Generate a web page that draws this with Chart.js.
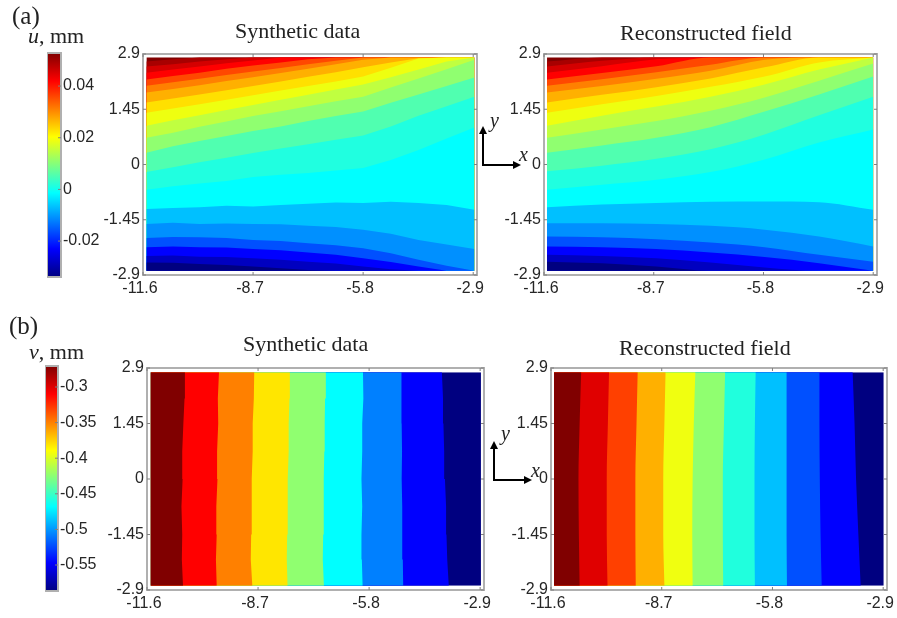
<!DOCTYPE html>
<html>
<head>
<meta charset="utf-8">
<title>Synthetic data and reconstructed field</title>
<script src="https://cdn.jsdelivr.net/npm/chart.js@4"></script>
<style>
html, body { margin: 0; padding: 0; background: #fff; }
#page { position: relative; width: 897px; height: 618px; overflow: hidden; filter: blur(0.5px); }
canvas { position: absolute; }
.t { position: absolute; font-family: "Liberation Serif", serif; font-size: 22px; color: #222; white-space: nowrap; line-height: 1; }
svg { position: absolute; left: 0; top: 0; }
</style>
</head>
<body>
<div id="page">
  <div class="t" style="left:12px;top:3px;font-size:25px">(a)</div>
  <div class="t" style="left:28px;top:25px"><i>u</i>, mm</div>
  <div class="t" style="left:235px;top:20px">Synthetic data</div>
  <div class="t" style="left:620px;top:22px">Reconstructed field</div>
  <div class="t" style="left:9px;top:313px;font-size:25px">(b)</div>
  <div class="t" style="left:29px;top:341px"><i>v</i>, mm</div>
  <div class="t" style="left:243px;top:333px">Synthetic data</div>
  <div class="t" style="left:619px;top:337px">Reconstructed field</div>
  <canvas id="cbU"></canvas>
  <canvas id="uSyn"></canvas>
  <canvas id="uRec"></canvas>
  <canvas id="cbV"></canvas>
  <canvas id="vSyn"></canvas>
  <canvas id="vRec"></canvas>
  <svg width="897" height="618">
    <g stroke="#000" stroke-width="2" fill="none">
      <path d="M483 128V165H517"/>
      <path d="M494 443V480H528"/>
    </g>
    <g fill="#000">
      <path d="M483 126l-4 8h8z"/><path d="M521 165l-8 -4v8z"/>
      <path d="M494 441l-4 8h8z"/><path d="M532 480l-8 -4v8z"/>
    </g>
    <g font-family="Liberation Serif" font-style="italic" font-size="20" fill="#222">
      <text x="490" y="127">y</text><text x="519" y="161">x</text>
      <text x="501" y="440">y</text><text x="531" y="477">x</text>
    </g>
  </svg>
</div>
<script>
var xTicks = [-11.6, -8.7, -5.8, -2.9];
var yTicks = [2.9, 1.45, 0, -1.45, -2.9];
var uBarTicks = [0.04, 0.02, 0, -0.02];
var vBarTicks = [-0.3, -0.35, -0.4, -0.45, -0.5, -0.55];
var uBarRange = [-0.0339, 0.0528];
var vBarRange = [-0.5865, -0.2705];

var jetStops = [0, 0.125, 0.375, 0.625, 0.875, 1];
var jetColors = ["#000080", "#0000ff", "#00ffff", "#ffff00", "#ff0000", "#800000"];

// filled levels of u, top band first
var uColors = ["#800000", "#a80000", "#d40000", "#ff0000", "#ff4800", "#ff8000", "#ffb000", "#ffe000", "#eeff10", "#c0ff40",
    "#90ff70", "#50ffb0", "#20ffe0", "#00ffff", "#00c0ff", "#0090ff", "#0050ff", "#0000ff", "#0000c0", "#000080"];

var uSynX = [-11.51, -10.81, -10.11, -9.4, -8.7, -7.97, -7.25, -6.52, -5.8, -5.07, -4.34, -3.6, -2.87];
var uSynLevels = [
    [2.81, 2.81, 2.81, 2.81, 2.81, 2.81, 2.81, 2.81, 2.81, 2.81, 2.81, 2.81, 2.81],
    [2.70, 2.76, 2.81, 2.81, 2.81, 2.81, 2.81, 2.81, 2.81, 2.81, 2.81, 2.81, 2.81],
    [2.57, 2.63, 2.70, 2.76, 2.81, 2.81, 2.81, 2.81, 2.81, 2.81, 2.81, 2.81, 2.81],
    [2.41, 2.49, 2.57, 2.66, 2.73, 2.81, 2.81, 2.81, 2.81, 2.81, 2.81, 2.81, 2.81],
    [2.23, 2.32, 2.41, 2.51, 2.60, 2.68, 2.76, 2.81, 2.81, 2.81, 2.81, 2.81, 2.81],
    [2.07, 2.16, 2.25, 2.35, 2.44, 2.53, 2.63, 2.72, 2.81, 2.81, 2.81, 2.81, 2.81],
    [1.89, 1.98, 2.08, 2.19, 2.29, 2.40, 2.51, 2.63, 2.75, 2.81, 2.81, 2.81, 2.81],
    [1.63, 1.73, 1.84, 1.95, 2.06, 2.18, 2.30, 2.42, 2.55, 2.68, 2.79, 2.81, 2.81],
    [1.36, 1.47, 1.58, 1.70, 1.82, 1.94, 2.06, 2.18, 2.31, 2.54, 2.78, 2.81, 2.81],
    [1.02, 1.16, 1.29, 1.43, 1.56, 1.70, 1.83, 1.97, 2.10, 2.29, 2.49, 2.70, 2.81],
    [0.70, 0.83, 0.99, 1.13, 1.27, 1.40, 1.53, 1.66, 1.78, 2.02, 2.26, 2.50, 2.75],
    [0.31, 0.48, 0.62, 0.75, 0.88, 1.00, 1.14, 1.27, 1.39, 1.62, 1.84, 2.06, 2.28],
    [-0.20, -0.07, 0.06, 0.18, 0.30, 0.42, 0.53, 0.65, 0.76, 1.00, 1.28, 1.53, 1.78],
    [-0.66, -0.57, -0.50, -0.43, -0.33, -0.27, -0.22, -0.16, -0.09, 0.12, 0.38, 0.68, 0.97],
    [-1.17, -1.14, -1.12, -1.08, -1.10, -1.06, -1.03, -1.00, -1.01, -0.98, -1.01, -1.06, -1.19],
    [-1.56, -1.53, -1.56, -1.55, -1.56, -1.57, -1.61, -1.64, -1.71, -1.82, -1.98, -2.10, -2.22],
    [-1.93, -1.90, -1.91, -1.93, -1.98, -2.01, -2.07, -2.12, -2.20, -2.33, -2.50, -2.66, -2.79],
    [-2.17, -2.15, -2.17, -2.18, -2.22, -2.25, -2.31, -2.37, -2.46, -2.56, -2.68, -2.79, -2.79],
    [-2.40, -2.39, -2.42, -2.43, -2.46, -2.50, -2.55, -2.60, -2.68, -2.75, -2.79, -2.79, -2.79],
    [-2.57, -2.58, -2.61, -2.64, -2.68, -2.72, -2.77, -2.79, -2.79, -2.79, -2.79, -2.79, -2.79]
];

var uRecX = [-11.52, -10.07, -8.63, -7.2, -5.77, -4.33, -2.9];
var uRecLevels = [
    [2.81, 2.81, 2.81, 2.81, 2.81, 2.81, 2.81],
    [2.70, 2.81, 2.81, 2.81, 2.81, 2.81, 2.81],
    [2.57, 2.72, 2.81, 2.81, 2.81, 2.81, 2.81],
    [2.41, 2.58, 2.76, 2.81, 2.81, 2.81, 2.81],
    [2.23, 2.40, 2.58, 2.81, 2.81, 2.81, 2.81],
    [2.07, 2.24, 2.42, 2.62, 2.81, 2.81, 2.81],
    [1.89, 2.06, 2.25, 2.46, 2.75, 2.81, 2.81],
    [1.63, 1.83, 2.03, 2.26, 2.55, 2.81, 2.81],
    [1.36, 1.58, 1.80, 2.04, 2.31, 2.68, 2.81],
    [1.02, 1.28, 1.52, 1.78, 2.10, 2.49, 2.81],
    [0.70, 0.92, 1.14, 1.41, 1.76, 2.20, 2.65],
    [0.31, 0.50, 0.70, 0.98, 1.39, 1.84, 2.31],
    [-0.18, -0.03, 0.15, 0.40, 0.79, 1.29, 1.78],
    [-0.66, -0.53, -0.40, -0.20, 0.13, 0.58, 0.92],
    [-1.12, -1.05, -1.01, -0.98, -0.97, -0.99, -1.19],
    [-1.54, -1.54, -1.56, -1.61, -1.71, -1.89, -2.15],
    [-1.89, -1.91, -1.96, -2.05, -2.17, -2.37, -2.55],
    [-2.15, -2.17, -2.22, -2.31, -2.43, -2.59, -2.79],
    [-2.37, -2.40, -2.46, -2.57, -2.70, -2.79, -2.79],
    [-2.55, -2.59, -2.68, -2.79, -2.79, -2.79, -2.79]
];

// filled levels of v, left band first; each row is the band's right edge
var vSynY = [-2.79, -2.1, -1.45, -0.72, 0, 0.72, 1.45, 2.1, 2.79];
var vSynColors = ["#800000", "#ff0000", "#ff8000", "#ffe600", "#90ff70", "#00ffff", "#0080ff", "#0000ff", "#000080"];
var vSynLevels = [
    [-10.66, -10.69, -10.68, -10.70, -10.67, -10.68, -10.65, -10.62, -10.61],
    [-9.78, -9.80, -9.78, -9.79, -9.76, -9.77, -9.74, -9.75, -9.72],
    [-8.85, -8.89, -8.88, -8.86, -8.87, -8.84, -8.84, -8.81, -8.80],
    [-7.93, -7.95, -7.94, -7.92, -7.93, -7.90, -7.90, -7.88, -7.87],
    [-6.98, -7.01, -7.00, -6.98, -6.99, -6.97, -6.96, -6.95, -6.93],
    [-5.97, -5.99, -6.00, -5.98, -6.00, -5.98, -5.98, -5.95, -5.96],
    [-4.91, -4.92, -4.94, -4.93, -4.95, -4.94, -4.95, -4.96, -4.95],
    [-3.72, -3.76, -3.78, -3.79, -3.82, -3.84, -3.86, -3.87, -3.90],
    [-2.88, -2.88, -2.88, -2.88, -2.88, -2.88, -2.88, -2.88, -2.88]
];
var vRecY = [-2.79, -1.45, 0, 1.45, 2.79];
var vRecColors = ["#800000", "#e00000", "#ff4000", "#ffb000", "#f0ff10", "#90ff70", "#20ffdd", "#00c0ff", "#0050ff", "#0000ff", "#000080"];
var vRecLevels = [
    [-10.85, -10.87, -10.88, -10.85, -10.81],
    [-10.12, -10.14, -10.14, -10.11, -10.08],
    [-9.38, -9.39, -9.39, -9.36, -9.33],
    [-8.63, -8.66, -8.66, -8.63, -8.60],
    [-7.89, -7.90, -7.89, -7.86, -7.82],
    [-7.09, -7.10, -7.10, -7.07, -7.04],
    [-6.26, -6.27, -6.27, -6.26, -6.24],
    [-5.42, -5.43, -5.43, -5.43, -5.43],
    [-4.51, -4.54, -4.56, -4.57, -4.57],
    [-3.49, -3.55, -3.61, -3.65, -3.70],
    [-2.89, -2.89, -2.89, -2.89, -2.89]
];

var axisFont = { family: "'Liberation Sans', sans-serif", size: 16 };
var textColor = "#262626";
var boxColor = "#b0b0b0";
var tickColor = "#808080";

// gray frame and small inward ticks, matlab style
var framePlugin = {
    id: "frame",
    afterDatasetsDraw: function(chart) {
        var a = chart.chartArea, c = chart.ctx, style = chart.options.plugins.frame.style;
        c.save();
        c.strokeStyle = boxColor;
        c.lineWidth = 2;
        c.strokeRect(a.left, a.top, a.right - a.left, a.bottom - a.top);
        c.lineWidth = 1;
        c.strokeStyle = tickColor;
        if (style == "panel") {
            chart.scales.x.ticks.forEach(function(t) {
                var p = chart.scales.x.getPixelForValue(t.value);
                c.beginPath();
                c.moveTo(p, a.top); c.lineTo(p, a.top + 3);
                c.moveTo(p, a.bottom); c.lineTo(p, a.bottom - 3);
                c.stroke();
            });
        }
        chart.scales.y.ticks.forEach(function(t) {
            var p = chart.scales.y.getPixelForValue(t.value);
            c.beginPath();
            if (style == "panel") {
                c.moveTo(a.left, p); c.lineTo(a.left + 3, p);
            }
            c.moveTo(a.right, p); c.lineTo(a.right - 3, p);
            c.stroke();
        });
        c.restore();
    }
};

var place = function(id, left, top, width, height) {
    var el = document.getElementById(id);
    el.width = width;
    el.height = height;
    el.style.left = left + "px";
    el.style.top = top + "px";
    el.style.width = width + "px";
    el.style.height = height + "px";
    return el;
};

var fixedTicks = function(list) {
    return function(scale) {
        scale.ticks = list.map(function(v) { return { value: v }; });
    };
};

var panelOptions = function(horizontal, smooth) {
    return {
        responsive: false,
        animation: false,
        indexAxis: horizontal ? "y" : "x",
        layout: { padding: { top: 15, right: 25, left: 0, bottom: 0 } },
        elements: {
            point: { radius: 0 },
            line: { borderWidth: 0, cubicInterpolationMode: smooth ? "monotone" : "default", tension: 0 }
        },
        plugins: { legend: { display: false }, tooltip: { enabled: false }, frame: { style: "panel" } },
        scales: {
            x: {
                type: "linear", min: -11.6, max: -2.8,
                afterBuildTicks: fixedTicks(xTicks),
                afterFit: function(s) { s.height = 30; },
                grid: { display: false, drawTicks: false }, border: { display: false },
                ticks: { color: textColor, font: axisFont, padding: 4, labelOffset: -3, maxRotation: 0, autoSkip: false,
                    callback: function(v) { return String(v); } }
            },
            y: {
                type: "linear", min: -2.9, max: 2.9,
                afterBuildTicks: fixedTicks(yTicks),
                afterFit: function(s) { s.width = 70; },
                grid: { display: false, drawTicks: false }, border: { display: false },
                ticks: { color: textColor, font: axisFont, padding: 3, autoSkip: false,
                    callback: function(v) { return String(v); } }
            }
        }
    };
};

// u panels: rows are horizontal-ish boundaries, each filled down to the bottom of the field
var drawU = function(id, box, xs, rows, smooth) {
    var el = place(id, box[0] - 70, box[1] - 15, box[2] - box[0] + 95, box[3] - box[1] + 45);
    var sets = rows.map(function(row, i) {
        return {
            data: xs.map(function(x, k) { return { x: x, y: row[k] }; }),
            backgroundColor: uColors[i],
            fill: { value: -2.79 }
        };
    }).reverse();
    new Chart(el, { type: "line", data: { datasets: sets }, options: panelOptions(false, smooth), plugins: [framePlugin] });
};

// v panels: rows are vertical-ish boundaries, each filled left to the field edge
var drawV = function(id, box, ys, rows, colors, xLeft, smooth) {
    var el = place(id, box[0] - 70, box[1] - 15, box[2] - box[0] + 95, box[3] - box[1] + 45);
    var sets = rows.map(function(row, i) {
        return {
            data: ys.map(function(y, k) { return { x: row[k], y: y }; }),
            backgroundColor: colors[i],
            fill: { value: xLeft }
        };
    });
    new Chart(el, { type: "line", data: { datasets: sets }, options: panelOptions(true, smooth), plugins: [framePlugin] });
};

var drawBar = function(id, box, range, tickList) {
    var el = place(id, box[0], box[1] - 12, box[2] - box[0] + 55, box[3] - box[1] + 24);
    new Chart(el, {
        type: "bar",
        data: {
            labels: ["mm"],
            datasets: [{
                data: [range],
                barPercentage: 1,
                categoryPercentage: 1,
                backgroundColor: function(ctx) {
                    var a = ctx.chart.chartArea;
                    if (!a) return "#000";
                    var g = ctx.chart.ctx.createLinearGradient(0, a.bottom, 0, a.top);
                    jetStops.forEach(function(s, i) { g.addColorStop(s, jetColors[i]); });
                    return g;
                }
            }]
        },
        options: {
            responsive: false,
            animation: false,
            layout: { padding: { top: 12, bottom: 12, left: 0, right: 0 } },
            plugins: { legend: { display: false }, tooltip: { enabled: false }, frame: { style: "bar" } },
            scales: {
                x: { display: false },
                y: {
                    position: "right", min: range[0], max: range[1],
                    afterBuildTicks: fixedTicks(tickList),
                    afterFit: function(s) { s.width = 55; },
                    grid: { display: false, drawTicks: false }, border: { display: false },
                    ticks: { color: textColor, font: axisFont, padding: 2, autoSkip: false,
                        callback: function(v) { return String(v); } }
                }
            }
        },
        plugins: [framePlugin]
    });
};

drawBar("cbU", [47, 53, 61, 277], uBarRange, uBarTicks);
drawBar("cbV", [45, 366, 58, 591], vBarRange, vBarTicks);
drawU("uSyn", [143, 54, 477, 275], uSynX, uSynLevels, false);
drawU("uRec", [544, 54, 877, 275], uRecX, uRecLevels, true);
drawV("vSyn", [147, 368, 484, 590], vSynY, vSynLevels, vSynColors, -11.5, false);
drawV("vRec", [551, 368, 887, 590], vRecY, vRecLevels, vRecColors, -11.52, true);
</script>
</body>
</html>
